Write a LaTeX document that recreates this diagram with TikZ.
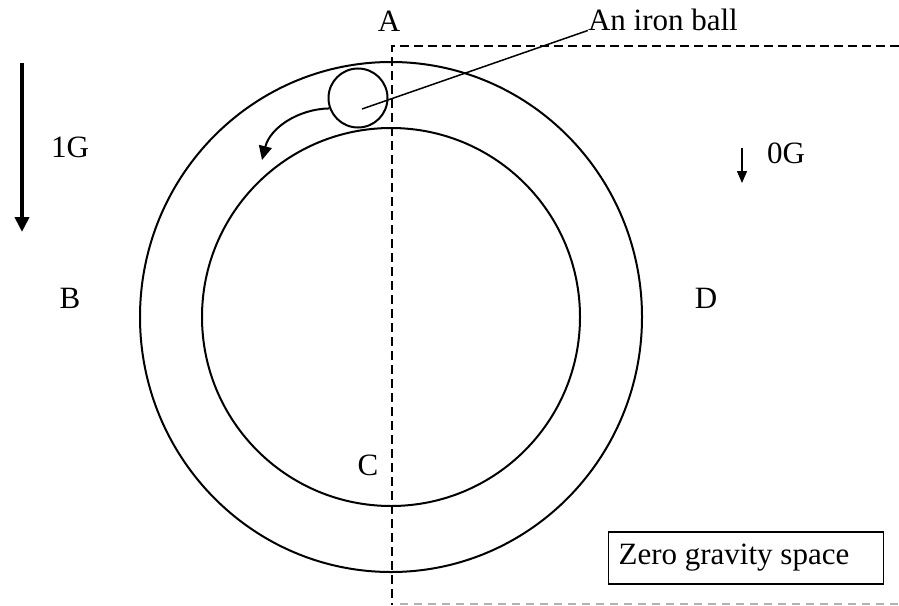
\documentclass[tikz,border=0pt]{standalone}
\usepackage{fontspec}
\setmainfont{Liberation Serif}
\usetikzlibrary{arrows.meta, positioning}

\begin{document}
\begin{tikzpicture}[
  x=1pt, y=-1pt,
  lbl/.style={font=\fontsize{31}{36}\selectfont, inner sep=0pt},
  ring/.style={line width=2pt},
  cut/.style={dash pattern=on 9pt off 5pt, line width=2pt},
  ball/.style={circle, draw, line width=2pt, minimum size=59pt, inner sep=0pt},
  bigarr/.style={-{Triangle[length=15pt, width=14pt]}, line width=4pt},
  smallarr/.style={-{Triangle[length=12pt, width=10pt]}, line width=1.5pt}
]
\useasboundingbox (0,0) rectangle (899,605);

% rings
\draw[ring] (391,317) ellipse [x radius=251pt, y radius=255pt];
\draw[ring] (391,317) ellipse [x radius=189pt, y radius=189pt];

% zero gravity border
\draw[cut] (899,46) -- (392,46) -- (392,605);
\draw[gray!60, line width=1.2pt, dash pattern=on 8pt off 6pt] (400,604) -- (899,604);

% labels
\node[lbl, anchor=base] (A) at (389,31) {A};
\node[lbl, anchor=base] (B) at (70,308) {B};
\node[lbl, anchor=base] (C) at (368,475) {C};
\node[lbl, anchor=base] (D) at (706,308) {D};
\node[lbl, anchor=base] (oneg) at (70,157) {1G};
\node[lbl, anchor=base] (zerog) at (786,163) {0G};
\node[lbl, anchor=base east] (iron) at (738,30) {An iron ball};

% the ball
\node[ball] (ironball) at (358,98) {};
\coordinate (grip) at (362,109);
\draw[line width=1.5pt] (grip) -- (iron.south west);
\coordinate (rolltip) at (262,160);
\draw[-{Triangle[length=14pt, width=13pt]}, line width=2pt]
  (ironball.200) .. controls (298,109) and (270,128) .. (rolltip);

% gravity arrows
\coordinate (g1top) at (22,63);
\coordinate (g1bot) at (22,232);
\draw[bigarr] (g1top) -- (g1bot);
\coordinate (g0top) at (742,148);
\coordinate (g0bot) at (742,183);
\draw[smallarr] (g0top) -- (g0bot);

\node[lbl, draw, line width=1.5pt, anchor=north east, minimum height=52pt,
      inner xsep=10pt] (space) at (884,531) {Zero gravity space\rule{24pt}{0pt}};
\end{tikzpicture}
\end{document}
